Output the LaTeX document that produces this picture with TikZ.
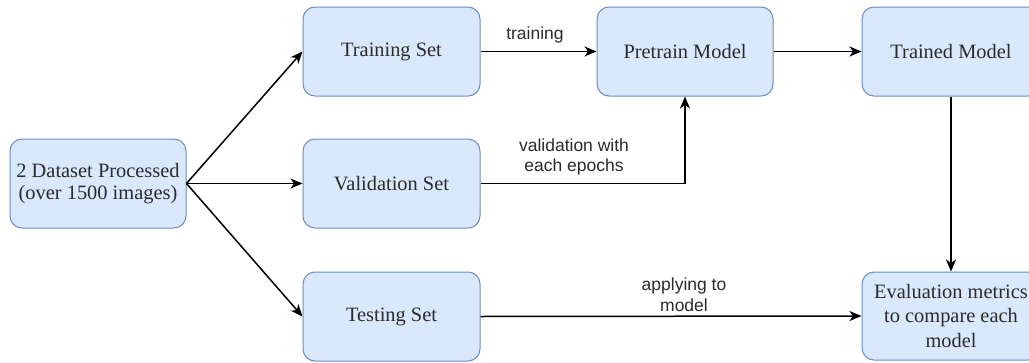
\documentclass[tikz,border=0pt]{standalone}
\usepackage{fontspec}
\setmainfont{Liberation Serif}
\newfontfamily\lblfont{Liberation Sans}
\usetikzlibrary{arrows.meta}
\definecolor{boxfill}{HTML}{DAE8FC}
\definecolor{boxline}{HTML}{6C8EBF}
\definecolor{txt}{HTML}{2B2B2B}
\tikzset{
  box/.style={rectangle, rounded corners=12pt, draw=boxline, fill=boxfill,
    line width=1pt, minimum width=177pt, minimum height=89pt, inner sep=0pt,
    text=txt, align=center, font=\fontsize{20.4}{22.5}\selectfont},
  arr/.style={draw=black, line width=1.5pt, -{Stealth[length=12pt,width=10pt,inset=3.5pt]}},
  lbl/.style={text=txt, align=center, inner sep=0pt,
    font=\lblfont\fontsize{17.5}{20.5}\selectfont}
}
\begin{document}
\begin{tikzpicture}[x=1pt,y=-1pt]
  \clip (0,0) rectangle (1029,362);
  \fill[white] (0,0) rectangle (1029,362);

  % boxes
  \node[box, minimum width=176pt] (ds) at (98,183.5) {2 Dataset Processed\\(over 1500 images)};
  \node[box] (train) at (391.5,51.5) {Training Set};
  \node[box] (val) at (391.5,183.5) {Validation Set};
  \node[box] (test) at (391.5,316.5) {Testing Set};
  \node[box, minimum width=176pt] (pre) at (685,51.5) {Pretrain Model};
  \node[box, minimum width=178pt] (trained) at (951,51.5) {Trained Model};
  \node[box, minimum width=178pt, minimum height=88pt, font=\fontsize{20.4}{24.5}\selectfont] (eval) at (951,316)
    {Evaluation metrics\\to compare each\\model};

  % split of the dataset
  \draw[arr] (ds.east) -- (train.west);
  \draw[arr] (ds.east) -- (val.west);
  \draw[arr] (ds.east) -- (test.west);

  % model flow
  \draw[arr] (train.east) -- (pre.west);
  \draw[arr] (val.east) -| (pre.south);
  \draw[arr] (pre.east) -- (trained.west);
  \draw[arr] (trained.south) -- (eval.north);
  \draw[arr] (test.east) -- (eval.west);

  % edge labels
  \node[lbl] (ltrain) at (535,35) {training};
  \node[lbl] (lval) at (574,157) {validation with\\each epochs};
  \node[lbl] (ltest) at (684,294.5) {applying to\\model};
\end{tikzpicture}
\end{document}
